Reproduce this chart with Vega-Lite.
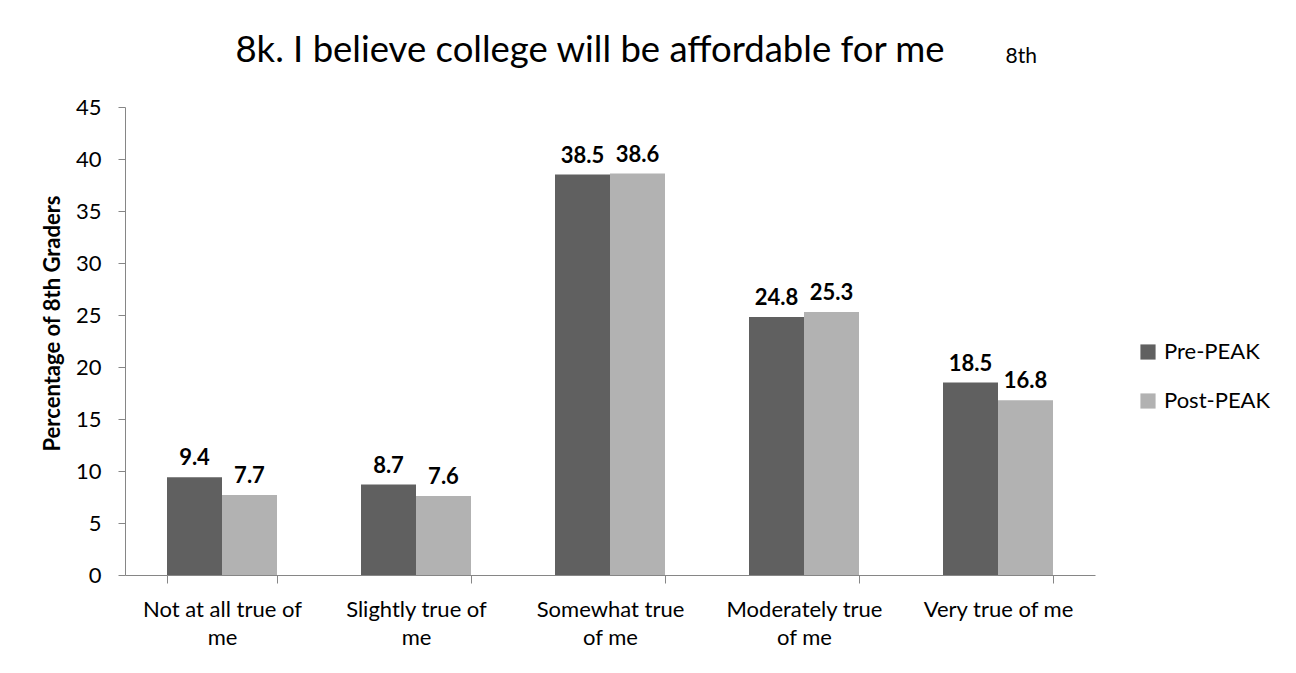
{
  "$schema": "https://vega.github.io/schema/vega-lite/v6.json",
  "width": 970,
  "height": 468,
  "autosize": "none",
  "padding": {"left": 125, "top": 107, "right": 201, "bottom": 98},
  "background": "white",
  "config": {
    "font": "Lato",
    "view": {"stroke": null}
  },
  "title": {
    "text": "8k. I believe college will be affordable for me",
    "font": "Lato",
    "fontSize": 36.5,
    "fontWeight": "normal",
    "color": "black",
    "anchor": "middle",
    "baseline": "alphabetic",
    "dx": -20,
    "dy": 93,
    "offset": 40
  },
  "data": {
    "values": [
      {"response": "Not at all true of me", "group": "Pre-PEAK", "pct": 9.4},
      {"response": "Not at all true of me", "group": "Post-PEAK", "pct": 7.7},
      {"response": "Slightly true of me", "group": "Pre-PEAK", "pct": 8.7},
      {"response": "Slightly true of me", "group": "Post-PEAK", "pct": 7.6},
      {"response": "Somewhat true of me", "group": "Pre-PEAK", "pct": 38.5},
      {"response": "Somewhat true of me", "group": "Post-PEAK", "pct": 38.6},
      {"response": "Moderately true of me", "group": "Pre-PEAK", "pct": 24.8},
      {"response": "Moderately true of me", "group": "Post-PEAK", "pct": 25.3},
      {"response": "Very true of me", "group": "Pre-PEAK", "pct": 18.5},
      {"response": "Very true of me", "group": "Post-PEAK", "pct": 16.8}
    ]
  },
  "encoding": {
    "x": {
      "field": "response",
      "type": "nominal",
      "sort": ["Not at all true of me", "Slightly true of me", "Somewhat true of me", "Moderately true of me", "Very true of me"],
      "scale": {"paddingInner": 0.433, "paddingOuter": 0.2165},
      "axis": {
        "labelAngle": 0,
        "tickBand": "extent",
        "ticks": true,
        "tickSize": 8,
        "tickColor": "#868686",
        "domainColor": "#868686",
        "labelFont": "Lato",
        "labelFontSize": 22,
        "labelColor": "black",
        "labelPadding": 16,
        "labelLimit": 0,
        "labelLineHeight": 28,
        "labelExpr": "datum.label == 'Not at all true of me' ? ['Not at all true of', 'me'] : datum.label == 'Slightly true of me' ? ['Slightly true of', 'me'] : datum.label == 'Somewhat true of me' ? ['Somewhat true', 'of me'] : datum.label == 'Moderately true of me' ? ['Moderately true', 'of me'] : datum.label",
        "title": "8th",
        "titleFont": "Lato",
        "titleFontSize": 21,
        "titleFontWeight": "normal",
        "titleColor": "black",
        "titleAlign": "left",
        "titleBaseline": "alphabetic",
        "titleAnchor": "start",
        "titleX": 880,
        "titleY": -513
      }
    },
    "xOffset": {"field": "group", "sort": ["Pre-PEAK", "Post-PEAK"]},
    "y": {
      "field": "pct",
      "type": "quantitative",
      "scale": {"domain": [0, 45]},
      "axis": {
        "values": [0, 5, 10, 15, 20, 25, 30, 35, 40, 45],
        "grid": false,
        "tickSize": 7,
        "tickColor": "#868686",
        "domainColor": "#868686",
        "labelFont": "Lato",
        "labelFontSize": 22,
        "labelColor": "black",
        "labelPadding": 17,
        "title": "Percentage of 8th Graders",
        "titleFont": "Lato",
        "titleFontSize": 22,
        "titleFontWeight": "bold",
        "titleColor": "black",
        "titleAngle": -90,
        "titleAlign": "center",
        "titleBaseline": "middle",
        "titleX": -73,
        "titleY": 216
      }
    }
  },
  "layer": [
    {
      "mark": {"type": "bar"},
      "encoding": {
        "color": {
          "field": "group",
          "type": "nominal",
          "sort": ["Pre-PEAK", "Post-PEAK"],
          "scale": {"domain": ["Pre-PEAK", "Post-PEAK"], "range": ["#606060", "#b2b2b2"]},
          "legend": {
            "title": null,
            "orient": "none",
            "legendX": 1012,
            "legendY": 234,
            "symbolType": "square",
            "symbolSize": 230,
            "symbolStrokeWidth": 0,
            "labelFont": "Lato",
            "labelFontSize": 22,
            "labelColor": "black",
            "rowPadding": 27,
            "labelOffset": 5
          }
        }
      }
    },
    {
      "mark": {"type": "text", "dy": -19, "font": "Lato", "fontWeight": "bold", "fontSize": 22, "color": "black"},
      "encoding": {"text": {"field": "pct", "type": "quantitative", "format": ".1f"}}
    }
  ]
}
